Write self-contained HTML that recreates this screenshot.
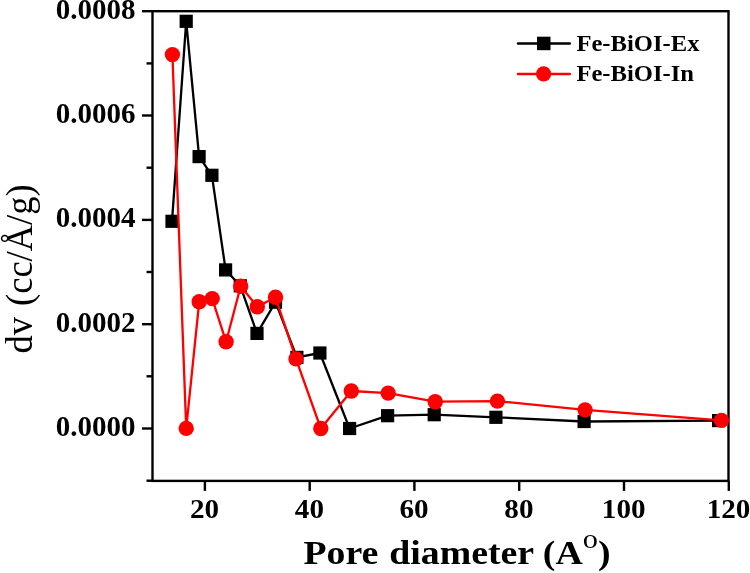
<!DOCTYPE html>
<html><head><meta charset="utf-8"><title>Pore size distribution</title>
<style>
html,body{margin:0;padding:0;background:#fff;}
svg{display:block;}
text{font-family:"Liberation Serif","DejaVu Serif",serif;fill:#000;}
.b{font-weight:bold;}
</style></head><body>
<svg width="750" height="573" viewBox="0 0 750 573">
<rect width="750" height="573" fill="#fff"/>

<g stroke="#000" stroke-width="2.4" fill="none" stroke-linecap="butt">
<rect x="152.5" y="11.2" width="576.0" height="469.7"/>
<line x1="146.5" y1="480.7" x2="152.5" y2="480.7"/>
<line x1="142.0" y1="428.5" x2="152.5" y2="428.5"/>
<line x1="146.5" y1="376.3" x2="152.5" y2="376.3"/>
<line x1="142.0" y1="324.2" x2="152.5" y2="324.2"/>
<line x1="146.5" y1="272.0" x2="152.5" y2="272.0"/>
<line x1="142.0" y1="219.9" x2="152.5" y2="219.9"/>
<line x1="146.5" y1="167.7" x2="152.5" y2="167.7"/>
<line x1="142.0" y1="115.5" x2="152.5" y2="115.5"/>
<line x1="146.5" y1="63.4" x2="152.5" y2="63.4"/>
<line x1="142.0" y1="11.2" x2="152.5" y2="11.2"/>
<line x1="204.9" y1="480.9" x2="204.9" y2="490.9"/>
<line x1="309.7" y1="480.9" x2="309.7" y2="490.9"/>
<line x1="414.4" y1="480.9" x2="414.4" y2="490.9"/>
<line x1="519.2" y1="480.9" x2="519.2" y2="490.9"/>
<line x1="624.0" y1="480.9" x2="624.0" y2="490.9"/>
<line x1="728.8" y1="480.9" x2="728.8" y2="490.9"/>
</g>
<text class="b" font-size="29" text-anchor="end" transform="translate(135.5,435.9) scale(1.0,1)">0.0000</text>
<text class="b" font-size="29" text-anchor="end" transform="translate(135.5,331.6) scale(1.0,1)">0.0002</text>
<text class="b" font-size="29" text-anchor="end" transform="translate(135.5,227.3) scale(1.0,1)">0.0004</text>
<text class="b" font-size="29" text-anchor="end" transform="translate(135.5,122.9) scale(1.0,1)">0.0006</text>
<text class="b" font-size="29" text-anchor="end" transform="translate(135.5,19.3) scale(1.0,1)">0.0008</text>
<text class="b" font-size="27.4" text-anchor="middle" transform="translate(204.6,517.7) scale(1.063,1)">20</text>
<text class="b" font-size="27.4" text-anchor="middle" transform="translate(309.4,517.7) scale(1.063,1)">40</text>
<text class="b" font-size="27.4" text-anchor="middle" transform="translate(414.1,517.7) scale(1.063,1)">60</text>
<text class="b" font-size="27.4" text-anchor="middle" transform="translate(518.9,517.7) scale(1.063,1)">80</text>
<text class="b" font-size="27.4" text-anchor="middle" transform="translate(623.7,517.7) scale(1.063,1)">100</text>
<text class="b" font-size="27.4" text-anchor="middle" transform="translate(728.5,517.7) scale(1.063,1)">120</text>
<text class="b" font-size="34.2" text-anchor="middle" transform="translate(457,564.2) scale(1.105,1)">Pore <tspan dx="1.4">diameter (A</tspan><tspan font-size="27.5" font-weight="normal" dy="-15.8">o</tspan><tspan dy="15.8">)</tspan></text>
<text font-size="36.5" text-anchor="middle" transform="translate(32.1,269.0) rotate(-90) scale(1,1.05)">dv <tspan dx="2">(cc/Å/g)</tspan></text>
<polyline points="172.0,221.3 186.2,21.3 199.1,156.6 211.9,175.3 225.6,269.9 240.3,285.8 257.0,333.4 275.5,302.2 296.9,357.4 319.9,353.0 349.6,428.5 387.6,415.7 434.2,414.7 495.9,417.3 584.1,421.5 718.6,420.6" fill="none" stroke="#000" stroke-width="2.3" stroke-linejoin="round"/>
<rect x="165.4" y="214.7" width="13.2" height="13.2" fill="#000"/>
<rect x="179.6" y="14.7" width="13.2" height="13.2" fill="#000"/>
<rect x="192.5" y="150.0" width="13.2" height="13.2" fill="#000"/>
<rect x="205.3" y="168.7" width="13.2" height="13.2" fill="#000"/>
<rect x="219.0" y="263.3" width="13.2" height="13.2" fill="#000"/>
<rect x="233.7" y="279.2" width="13.2" height="13.2" fill="#000"/>
<rect x="250.4" y="326.8" width="13.2" height="13.2" fill="#000"/>
<rect x="268.9" y="295.6" width="13.2" height="13.2" fill="#000"/>
<rect x="290.3" y="350.8" width="13.2" height="13.2" fill="#000"/>
<rect x="313.3" y="346.4" width="13.2" height="13.2" fill="#000"/>
<rect x="343.0" y="421.9" width="13.2" height="13.2" fill="#000"/>
<rect x="381.0" y="409.1" width="13.2" height="13.2" fill="#000"/>
<rect x="427.6" y="408.1" width="13.2" height="13.2" fill="#000"/>
<rect x="489.3" y="410.7" width="13.2" height="13.2" fill="#000"/>
<rect x="577.5" y="414.9" width="13.2" height="13.2" fill="#000"/>
<rect x="712.0" y="414.0" width="13.2" height="13.2" fill="#000"/>
<polyline points="172.4,54.6 186.2,428.4 199.2,301.8 212.2,298.6 226.1,341.8 240.7,286.2 257.3,306.8 275.5,297.3 296.0,358.9 320.8,428.5 351.3,391.0 388.2,393.1 435.2,401.7 497.4,401.1 585.1,409.9 721.5,420.4" fill="none" stroke="#f00" stroke-width="2.3" stroke-linejoin="round"/>
<circle cx="172.4" cy="54.6" r="7.7" fill="#f00"/>
<circle cx="186.2" cy="428.4" r="7.7" fill="#f00"/>
<circle cx="199.2" cy="301.8" r="7.7" fill="#f00"/>
<circle cx="212.2" cy="298.6" r="7.7" fill="#f00"/>
<circle cx="226.1" cy="341.8" r="7.7" fill="#f00"/>
<circle cx="240.7" cy="286.2" r="7.7" fill="#f00"/>
<circle cx="257.3" cy="306.8" r="7.7" fill="#f00"/>
<circle cx="275.5" cy="297.3" r="7.7" fill="#f00"/>
<circle cx="296.0" cy="358.9" r="7.7" fill="#f00"/>
<circle cx="320.8" cy="428.5" r="7.7" fill="#f00"/>
<circle cx="351.3" cy="391.0" r="7.7" fill="#f00"/>
<circle cx="388.2" cy="393.1" r="7.7" fill="#f00"/>
<circle cx="435.2" cy="401.7" r="7.7" fill="#f00"/>
<circle cx="497.4" cy="401.1" r="7.7" fill="#f00"/>
<circle cx="585.1" cy="409.9" r="7.7" fill="#f00"/>
<circle cx="721.5" cy="420.4" r="7.7" fill="#f00"/>
<line x1="518" y1="43.6" x2="569.8" y2="43.6" stroke="#000" stroke-width="2.5" stroke-linecap="round"/>
<rect x="537" y="36.7" width="13.5" height="13.5" fill="#000"/>
<line x1="518" y1="73.9" x2="569.8" y2="73.9" stroke="#f00" stroke-width="2.5" stroke-linecap="round"/>
<circle cx="543.6" cy="73.9" r="7.6" fill="#f00"/>
<text class="b" font-size="22.3" transform="translate(576.4,51.2) scale(1.105,1)">Fe-BiOI-Ex</text>
<text class="b" font-size="22.3" transform="translate(576.4,81.1) scale(1.105,1)">Fe-BiOI-In</text>
</svg></body></html>
